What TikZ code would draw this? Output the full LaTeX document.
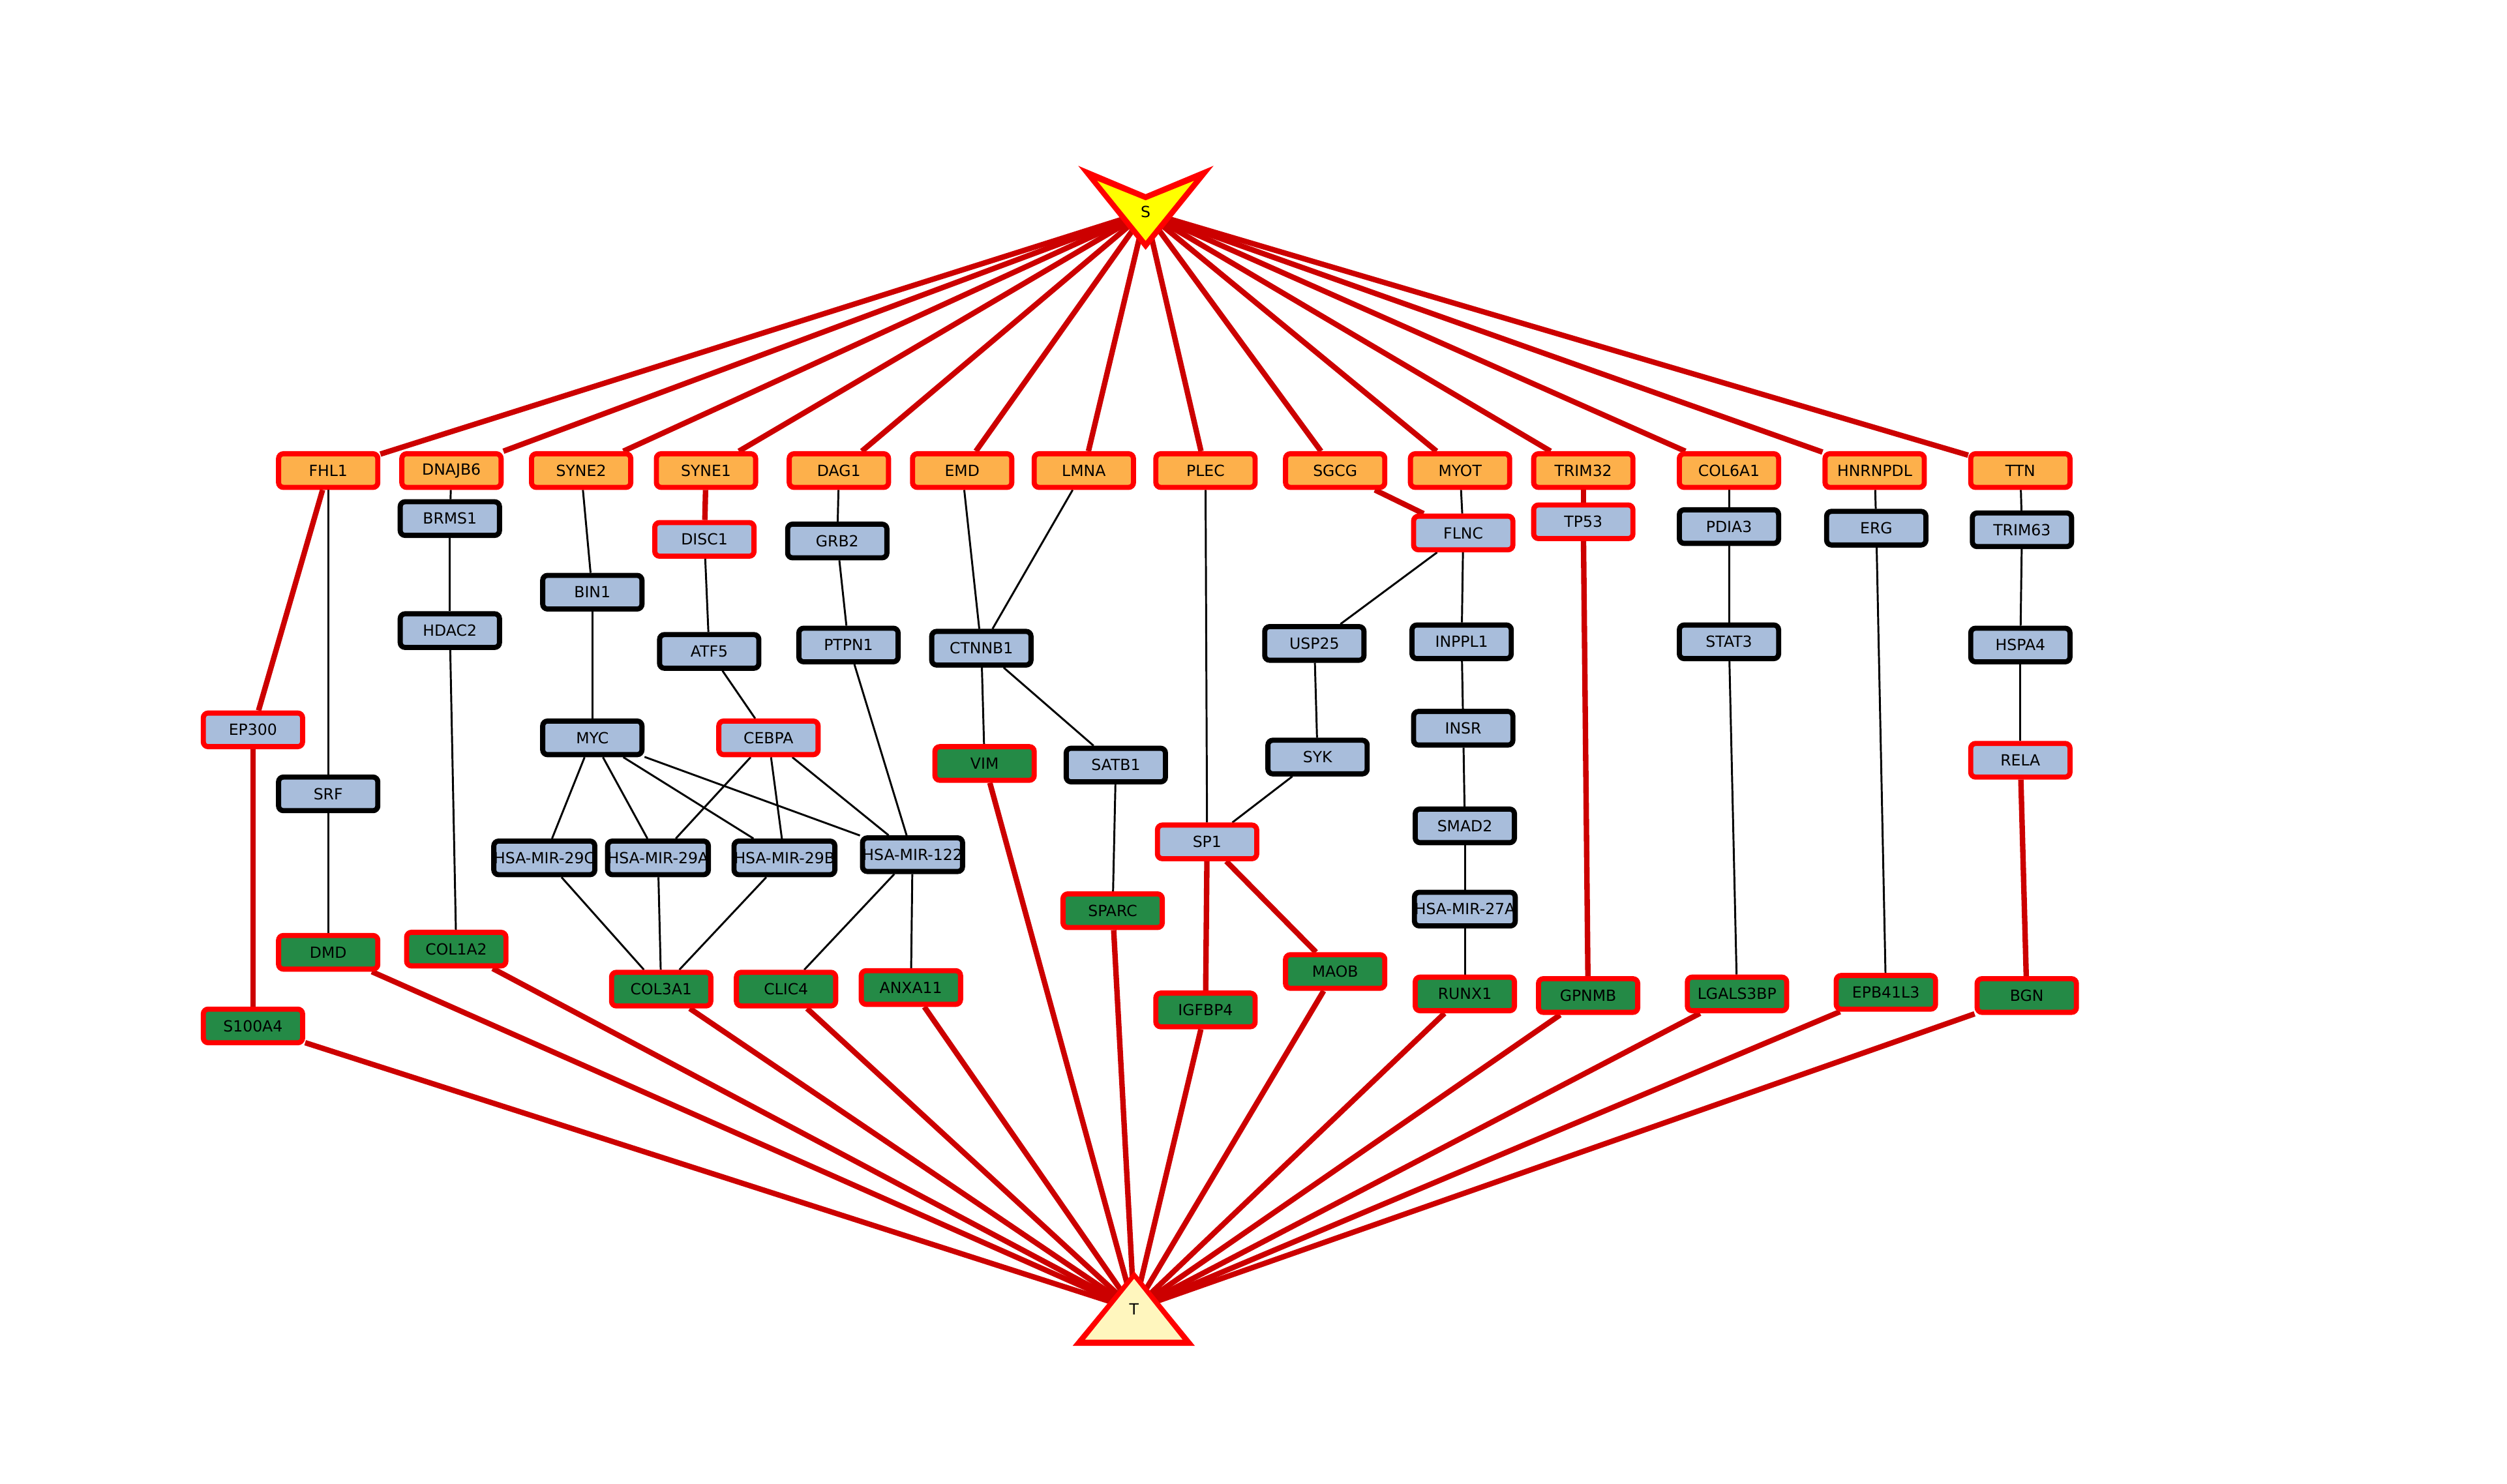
\documentclass[tikz,border=0pt]{standalone}
\usepackage{fontspec}
\setmainfont{DejaVu Sans}
\usepackage{tikz}

\definecolor{nodered}{RGB}{255,0,0}
\definecolor{edgered}{RGB}{204,0,0}
\definecolor{upperorange}{RGB}{253,176,75}
\definecolor{linkblue}{RGB}{168,189,219}
\definecolor{lowergreen}{RGB}{36,138,70}
\definecolor{syellow}{RGB}{255,255,0}
\definecolor{tyellow}{RGB}{255,246,190}

\pgfdeclarelayer{edgelayer}
\pgfsetlayers{edgelayer,main}

\newcommand{\genesize}{\fontsize{4.8}{5.5}\selectfont}

\tikzset{
  gene/.style={rectangle, rounded corners=1.5pt, minimum width=31pt,
    minimum height=10.5pt, inner sep=0pt, line width=1.6pt, font=\genesize},
  upper/.style={gene, draw=nodered, fill=upperorange},
  linker/.style={gene, draw=black, fill=linkblue},
  hit/.style={gene, draw=nodered, fill=linkblue},
  lower/.style={gene, draw=nodered, fill=lowergreen},
  redge/.style={draw=edgered, line width=1.7pt},
  bedge/.style={draw=black, line width=0.6pt}
}

\begin{document}
\begin{tikzpicture}[x=0.5pt, y=-0.5pt]
\useasboundingbox (0,0) rectangle (1566,927);

% source S
\fill[nodered] (673.5,103.6) -- (715.6,121.3) -- (758,103.6) -- (715.6,156.1) -- cycle;
\fill[syellow] (685.4,113) -- (715.6,125.2) -- (745.8,113) -- (715.6,150.4) -- cycle;
\node[font=\genesize] (S) at (715.6,132.4) {S};

% target T
\fill[nodered] (708.4,794.3) -- (746.4,840.9) -- (670,840.9) -- cycle;
\fill[tyellow] (708.4,799) -- (738.6,837) -- (677.8,837) -- cycle;
\node[font=\genesize] (T) at (708.4,818) {T};

% top row
\node[upper] (fhl1) at (205,294) {FHL1};
\node[upper] (dnajb6) at (282,294) {DNAJB6};
\node[upper] (syne2) at (363,294) {SYNE2};
\node[upper] (syne1) at (441,294) {SYNE1};
\node[upper] (dag1) at (524,294) {DAG1};
\node[upper] (emd) at (601,294) {EMD};
\node[upper] (lmna) at (677,294) {LMNA};
\node[upper] (plec) at (753,294) {PLEC};
\node[upper] (sgcg) at (834,294) {SGCG};
\node[upper] (myot) at (912,294) {MYOT};
\node[upper] (trim32) at (989,294) {TRIM32};
\node[upper] (col6a1) at (1080,294) {COL6A1};
\node[upper] (hnrnpdl) at (1171,294) {HNRNPDL};
\node[upper] (ttn) at (1262,294) {TTN};

% middle nodes
\node[linker] (brms1) at (281,324) {BRMS1};
\node[hit] (disc1) at (440,337) {DISC1};
\node[linker] (grb2) at (523,338) {GRB2};
\node[hit] (flnc) at (914,333) {FLNC};
\node[hit] (tp53) at (989,326) {TP53};
\node[linker] (pdia3) at (1080,329) {PDIA3};
\node[linker] (erg) at (1172,330) {ERG};
\node[linker] (trim63) at (1263,331) {TRIM63};
\node[linker] (bin1) at (370,370) {BIN1};
\node[linker] (hdac2) at (281,394) {HDAC2};
\node[linker] (atf5) at (443,407) {ATF5};
\node[linker] (ptpn1) at (530,403) {PTPN1};
\node[linker] (ctnnb1) at (613,405) {CTNNB1};
\node[linker] (usp25) at (821,402) {USP25};
\node[linker] (inppl1) at (913,401) {INPPL1};
\node[linker] (stat3) at (1080,401) {STAT3};
\node[linker] (hspa4) at (1262,403) {HSPA4};
\node[hit] (ep300) at (158,456) {EP300};
\node[linker] (myc) at (370,461) {MYC};
\node[hit] (cebpa) at (480,461) {CEBPA};
\node[linker] (insr) at (914,455) {INSR};
\node[linker] (srf) at (205,496) {SRF};
\node[linker] (satb1) at (697,478) {SATB1};
\node[linker] (syk) at (823,473) {SYK};
\node[hit] (rela) at (1262,475) {RELA};
\node[linker] (smad2) at (915,516) {SMAD2};
\node[hit] (sp1) at (754,526) {SP1};
\node[linker] (mir29c) at (340,536) {HSA-MIR-29C};
\node[linker] (mir29a) at (411,536) {HSA-MIR-29A};
\node[linker] (mir29b) at (490,536) {HSA-MIR-29B};
\node[linker] (mir122) at (570,534) {HSA-MIR-122};
\node[linker] (mir27a) at (915,568) {HSA-MIR-27A};

% bottom row
\node[lower] (vim) at (615,477) {VIM};
\node[lower] (sparc) at (695,569) {SPARC};
\node[lower] (dmd) at (205,595) {DMD};
\node[lower] (col1a2) at (285,593) {COL1A2};
\node[lower] (col3a1) at (413,618) {COL3A1};
\node[lower] (clic4) at (491,618) {CLIC4};
\node[lower] (anxa11) at (569,617) {ANXA11};
\node[lower] (maob) at (834,607) {MAOB};
\node[lower] (igfbp4) at (753,631) {IGFBP4};
\node[lower] (runx1) at (915,621) {RUNX1};
\node[lower] (gpnmb) at (992,622) {GPNMB};
\node[lower] (lgals3bp) at (1085,621) {LGALS3BP};
\node[lower] (epb41l3) at (1178,620) {EPB41L3};
\node[lower] (bgn) at (1266,622) {BGN};
\node[lower] (s100a4) at (158,641) {S100A4};

\begin{pgfonlayer}{edgelayer}
% S and T edges
\foreach \n in {fhl1,dnajb6,syne2,syne1,dag1,emd,lmna,plec,sgcg,myot,trim32,col6a1,hnrnpdl,ttn}
  \draw[redge] (S) -- (\n);
\foreach \n in {s100a4,dmd,col1a2,col3a1,clic4,anxa11,vim,sparc,igfbp4,maob,runx1,gpnmb,lgals3bp,epb41l3,bgn}
  \draw[redge] (\n) -- (T);

% thick links
\foreach \a/\b in {fhl1/ep300,ep300/s100a4,syne1/disc1,sgcg/flnc,trim32/tp53,tp53/gpnmb,rela/bgn,sp1/igfbp4,sp1/maob}
  \draw[redge] (\a) -- (\b);

% thin links
\foreach \a/\b in {fhl1/srf,srf/dmd,dnajb6/brms1,brms1/hdac2,hdac2/col1a2,syne2/bin1,bin1/myc,
  myc/mir29c,myc/mir29a,myc/mir29b,myc/mir122,disc1/atf5,atf5/cebpa,
  cebpa/mir29a,cebpa/mir29b,cebpa/mir122,mir29c/col3a1,mir29a/col3a1,mir29b/col3a1,
  mir122/clic4,mir122/anxa11,dag1/grb2,grb2/ptpn1,ptpn1/mir122,emd/ctnnb1,lmna/ctnnb1,
  ctnnb1/vim,ctnnb1/satb1,satb1/sparc,plec/sp1,myot/flnc,flnc/usp25,usp25/syk,syk/sp1,
  flnc/inppl1,inppl1/insr,insr/smad2,smad2/mir27a,mir27a/runx1,col6a1/pdia3,pdia3/stat3,
  stat3/lgals3bp,hnrnpdl/erg,erg/epb41l3,ttn/trim63,trim63/hspa4,hspa4/rela}
  \draw[bedge] (\a) -- (\b);
\end{pgfonlayer}

\end{tikzpicture}
\end{document}
